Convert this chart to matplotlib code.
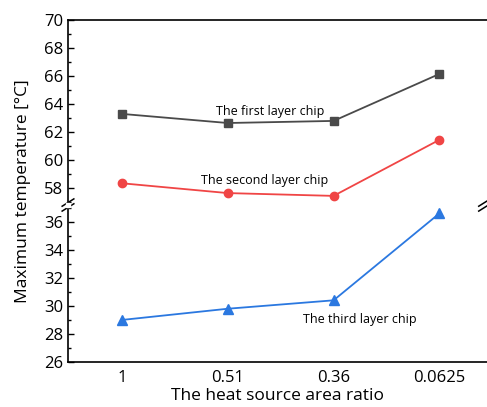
import matplotlib.pyplot as plt
from matplotlib.ticker import MultipleLocator

plt.rcParams['font.family'] = ['Open Sans', 'DejaVu Sans']

ratios = ['1', '0.51', '0.36', '0.0625']
first_layer = [63.3, 62.65, 62.8, 66.15]
second_layer = [58.35, 57.65, 57.45, 61.45]
third_layer = [29.0, 29.8, 30.4, 36.6]

xs = list(range(len(ratios)))

fig = plt.figure(figsize=(4.87, 4.07), dpi=100)
left, right = 68 / 487, 1.0
y_bot, y_brk, y_top = 1 - 362 / 407, 1 - 205 / 407, 1 - 20 / 407
ax_hi = fig.add_axes([left, y_brk, right - left, y_top - y_brk])
ax_lo = fig.add_axes([left, y_bot, right - left, y_brk - y_bot])

grey, red, blue = '#4a4a4a', '#f04545', '#2b78e0'
for ax in (ax_hi, ax_lo):
    ax.plot(xs, first_layer, '-s', color=grey, ms=6, lw=1.3)
    ax.plot(xs, second_layer, '-o', color=red, ms=6, lw=1.3)
    ax.plot(xs, third_layer, '-^', color=blue, ms=7, lw=1.3)
    ax.set_xlim(-0.51, 3.45)
    ax.spines['right'].set_visible(False)
    ax.yaxis.set_major_locator(MultipleLocator(2))
    ax.yaxis.set_minor_locator(MultipleLocator(1))
    ax.tick_params(axis='y', which='major', direction='in', length=4, width=1, labelsize=12)
    ax.tick_params(axis='y', which='minor', direction='in', length=2.5, width=1)
    for s in ax.spines.values():
        s.set_linewidth(1.2)

ax_hi.set_ylim(56.8, 70)
ax_lo.set_ylim(26, 37.2)

ax_hi.spines['bottom'].set_visible(False)
ax_lo.spines['top'].set_visible(False)
ax_hi.set_xticks([])
ax_hi.set_yticks([58, 60, 62, 64, 66, 68, 70])
ax_lo.set_yticks([26, 28, 30, 32, 34, 36])
ax_lo.set_xticks(xs)
ax_lo.set_xticklabels(ratios)
ax_lo.tick_params(axis='x', length=0, pad=6, labelsize=12)

ax_lo.set_xlabel('The heat source area ratio', fontsize=12.5, labelpad=1)
fig.text(0.047, (y_bot + y_top) / 2, 'Maximum temperature [°C]', rotation=90,
         fontsize=12.5, ha='center', va='center')

ax_hi.text(1.4, 63.5, 'The first layer chip', fontsize=9, ha='center', va='center')
ax_hi.text(1.35, 58.55, 'The second layer chip', fontsize=9, ha='center', va='center')
ax_lo.text(2.25, 29.05, 'The third layer chip', fontsize=9, ha='center', va='center')

# axis break marks
for xb in (left, 0.995):
    for dy in (-0.006, 0.006):
        fig.add_artist(plt.Line2D([xb - 0.012, xb + 0.012], [y_brk + dy - 0.009, y_brk + dy + 0.009],
                                  color='black', lw=1.1))
fig.add_artist(plt.Rectangle((left - 0.004, y_brk - 0.004), 0.008, 0.008,
                             color='white', zorder=3))

fig.savefig('out.png', dpi=100)
